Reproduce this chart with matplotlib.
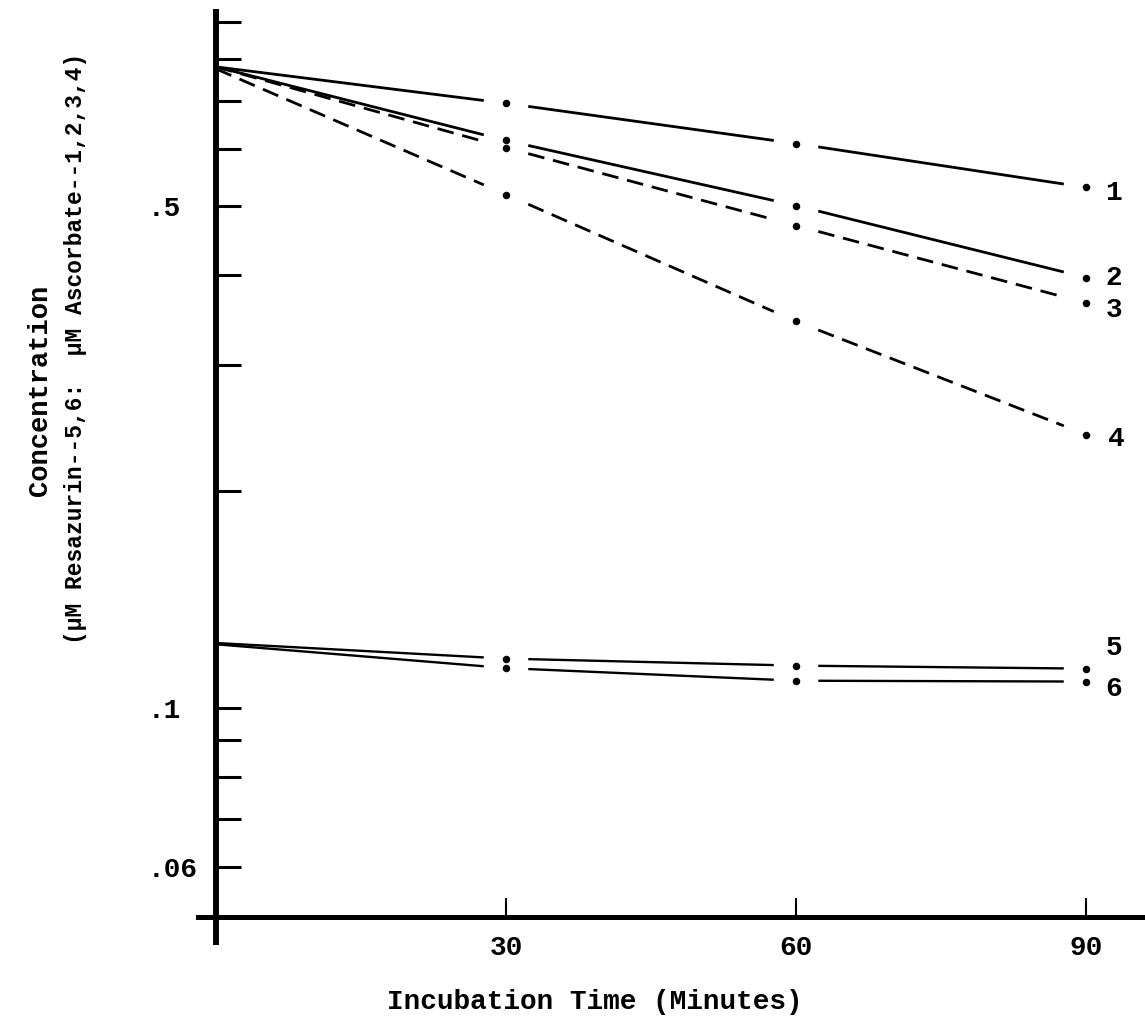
import numpy as np
import matplotlib
matplotlib.use("Agg")
import matplotlib.pyplot as plt

# ---- data ----
times = [0, 30, 60, 90]
s1 = [0.780, 0.694, 0.610, 0.530]
s2 = [0.780, 0.616, 0.500, 0.397]
s3 = [0.780, 0.602, 0.469, 0.366]
s4 = [0.775, 0.518, 0.345, 0.240]
s5 = [0.123, 0.117, 0.1144, 0.1133]
s6 = [0.1225, 0.1135, 0.109, 0.1087]
series = [s1, s2, s3, s4, s5, s6]
series_names = ["1", "2", "3", "4", "5", "6"]
xticks = [30, 60, 90]
xtick_labels = ["30", "60", "90"]
ymajor = [0.06, 0.1, 0.5]
ymajor_labels = [".06", ".1", ".5"]
yminor = [0.07, 0.08, 0.09, 0.2, 0.3, 0.4, 0.6, 0.7, 0.8, 0.9]

# ---- styles ----
styles = [
    dict(ls="-", lw=2.0),
    dict(ls="-", lw=2.0),
    dict(ls=(0, (6, 3.2)), lw=2.0),
    dict(ls=(0, (6, 3.2)), lw=2.0),
    dict(ls="-", lw=1.7),
    dict(ls="-", lw=1.7),
]
label_offsets = [(14, -4), (14, 0), (14, -5), (16, -3), (14, 15), (14, -5)]
gap = 2.3  # x-units of blank space around each plotted point

FONT = ["Liberation Mono", "DejaVu Sans Mono"]
plt.rcParams["font.family"] = FONT
plt.rcParams["font.weight"] = "bold"

fig = plt.figure(figsize=(11.45, 10.25), dpi=100)
W, H = 1145, 1025
ax = fig.add_axes([216 / W, (H - 917) / H, (W - 216) / W, (917 - 12) / H])
ax.set_yscale("log")
ax.set_ylim(0.0511, 0.930)
ax.set_xlim(0, 96.1)

def interp_log(xa, ya, xb, yb, x):
    t = (x - xa) / (xb - xa)
    return np.exp(np.log(ya) + t * (np.log(yb) - np.log(ya)))

for vals, st in zip(series, styles):
    for i in range(len(times) - 1):
        xa, xb = times[i], times[i + 1]
        ya, yb = vals[i], vals[i + 1]
        x0 = xa + (gap if i > 0 else 0)
        x1 = xb - gap
        ax.plot([x0, x1], [interp_log(xa, ya, xb, yb, x0), interp_log(xa, ya, xb, yb, x1)],
                color="black", solid_capstyle="butt", dash_capstyle="butt", **st)
    ax.plot(times[1:], vals[1:], ls="none", marker="o", ms=4.4, color="black")

for name, vals, off in zip(series_names, series, label_offsets):
    ax.annotate(name, (times[-1], vals[-1]), xytext=off, textcoords="offset points",
                ha="left", va="center", fontsize=20, color="black")

# axes styling
for s in ["top", "right"]:
    ax.spines[s].set_visible(False)
ax.spines["left"].set_linewidth(4.3)
ax.spines["bottom"].set_linewidth(3.6)
ax.spines["left"].set_bounds(0.0472, 0.930)
ax.spines["bottom"].set_bounds(-1.9, 96.1)

ax.set_xticks(xticks)
ax.set_xticklabels(xtick_labels)
ax.tick_params(axis="x", direction="in", length=14, width=1.5, pad=13, labelsize=20)

ax.set_yticks(ymajor)
ax.set_yticklabels(ymajor_labels)
ax.set_yticks(yminor, minor=True)
ax.yaxis.set_minor_formatter(matplotlib.ticker.NullFormatter())
ax.tick_params(axis="y", which="both", direction="in", length=18, width=2.2, pad=49, labelsize=20)
for lab in ax.get_yticklabels():
    lab.set_horizontalalignment("left")

# axis titles
fig.text(595 / W, 1 - 1002 / H, "Incubation Time (Minutes)", ha="center", va="center", fontsize=20)
fig.text(40 / W, 1 - 390 / H, "Concentration", rotation=90, ha="center", va="center", fontsize=19.5)
fig.text(76 / W, 1 - 348 / H, "(\u00b5M Resazurin--5,6:  \u00b5M Ascorbate--1,2,3,4)",
         rotation=90, ha="center", va="center", fontsize=16.5)

fig.savefig("out.png", dpi=100)
